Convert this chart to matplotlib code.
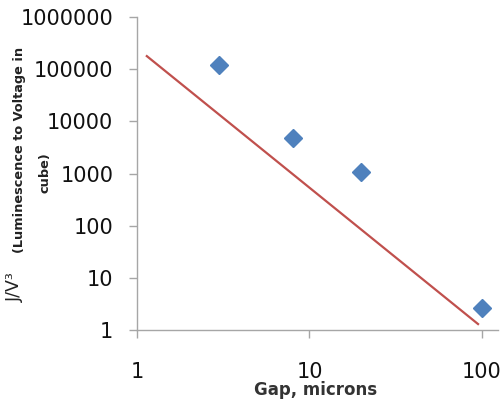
import matplotlib.pyplot as plt

# Measured points (gap in microns vs J/V^3)
gap_um = [3, 8, 20, 100]
j_over_v3 = [119000, 4700, 1050, 2.6]

# Red trend line end points
fit_gap = [1.14, 95]
fit_val = [178000, 1.3]

x_ticks = [1, 10, 100]
y_ticks = [1, 10, 100, 1000, 10000, 100000, 1000000]

fig = plt.figure(figsize=(5.03, 4.0), dpi=100)
ax = fig.add_axes([137/503, 1 - 330/400, (498 - 137)/503, (330 - 17)/400])

ax.plot(fit_gap, fit_val, color='#C0504D', linewidth=1.6)
ax.plot(gap_um, j_over_v3, linestyle='none', marker='D', markersize=9,
        color='#4F81BD', markeredgecolor='#4F81BD')

ax.set_xscale('log')
ax.set_yscale('log')
ax.set_xlim(1, 124)
ax.set_ylim(1, 1000000)
ax.set_xticks(x_ticks)
ax.set_xticklabels([str(v) for v in x_ticks])
ax.set_yticks(y_ticks)
ax.set_yticklabels([str(v) for v in y_ticks])
ax.minorticks_off()

for s in ['top', 'right']:
    ax.spines[s].set_visible(False)
for s in ['left', 'bottom']:
    ax.spines[s].set_color('#A6A6A6')
    ax.spines[s].set_linewidth(1.0)

ax.tick_params(axis='both', direction='out', length=6, width=1, color='#A6A6A6',
               labelsize=15, labelcolor='#111111')
ax.tick_params(axis='y', pad=11)
ax.tick_params(axis='x', pad=17)

# axis titles
fig.text(316/503, 1 - 390/400, 'Gap, microns', ha='center', va='center',
         fontsize=12, fontweight='bold', color='#333333')
fig.text(15/503, 1 - 287/400, 'J/V³', ha='center', va='center', rotation=90,
         fontsize=12.5, color='#222222')
fig.text(20/503, 1 - 150/400, '(Luminescence to Voltage in', ha='center', va='center',
         rotation=90, fontsize=9.3, fontweight='bold', color='#222222')
fig.text(45/503, 1 - 173/400, 'cube)', ha='center', va='center', rotation=90,
         fontsize=9.3, fontweight='bold', color='#222222')

fig.savefig('out.png', dpi=100)
